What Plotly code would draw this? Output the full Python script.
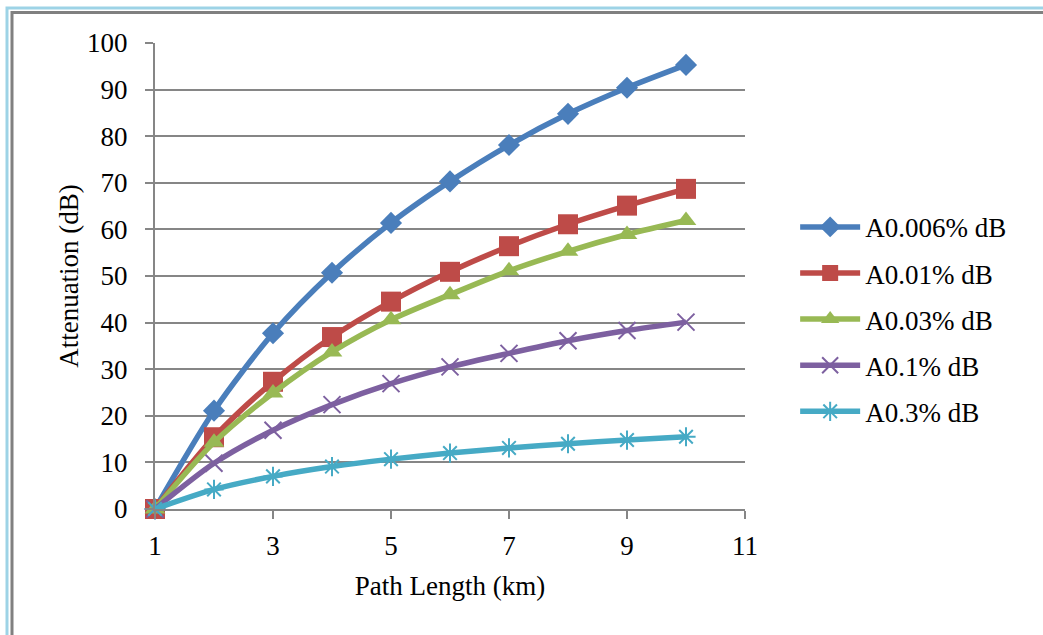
import plotly.graph_objects as go

path_km = [1, 2, 3, 4, 5, 6, 7, 8, 9, 10]
a_0006 = [0, 21.1, 37.7, 50.7, 61.4, 70.3, 78.1, 84.8, 90.4, 95.3]
a_001 = [0, 15.4, 27.3, 36.9, 44.5, 50.9, 56.4, 61.1, 65.1, 68.7]
a_003 = [0, 14.3, 24.9, 33.7, 40.6, 46.0, 51.1, 55.3, 58.9, 61.9]
a_01 = [0, 9.8, 16.9, 22.4, 26.9, 30.5, 33.4, 36.1, 38.3, 40.1]
a_03 = [0, 4.2, 7.0, 9.1, 10.7, 12.0, 13.1, 14.0, 14.8, 15.5]

series = [
    ("A0.006% dB", a_0006, "#4A7EBB", "diamond", 17),
    ("A0.01% dB", a_001, "#BE4B48", "square", 20),
    ("A0.03% dB", a_003, "#98B954", "triangle-up", 18),
    ("A0.1% dB", a_01, "#7D60A0", "x-thin-open", 17),
    ("A0.3% dB", a_03, "#46AAC5", "asterisk-open", 16),
]

FONT = "Liberation Serif, Times New Roman, serif"
FS = 27

fig = go.Figure()
for i, (name, vals, color, sym, size) in enumerate(series):
    open_sym = sym.endswith("open")
    fig.add_trace(go.Scatter(
        x=path_km, y=vals, name=name, mode="lines+markers",
        legendgroup=f"g{i}", cliponaxis=False,
        line=dict(color=color, width=5.5, shape="spline", smoothing=0.8),
        marker=dict(symbol=sym, size=size, color=color,
                    line=dict(color=color, width=2 if open_sym else 0)),
    ))

fig.update_layout(
    width=1043, height=635,
    margin=dict(l=155, r=298, t=43, b=126),
    paper_bgcolor="white", plot_bgcolor="white",
    font=dict(family=FONT, size=FS, color="black"),
    showlegend=True,
    legend=dict(x=1.085, y=0.657, xanchor="left", yanchor="top",
                font=dict(family=FONT, size=FS, color="black"),
                tracegroupgap=8, itemwidth=60, bgcolor="rgba(0,0,0,0)"),
    xaxis=dict(range=[1, 11], tickmode="linear", tick0=1, dtick=2,
               showgrid=False, zeroline=False, showline=True,
               linecolor="#868686", linewidth=2, ticks="outside",
               ticklen=8, tickcolor="#868686", tickwidth=2,
               ticklabelstandoff=4,
               tickfont=dict(family=FONT, size=FS),
               title=dict(text="Path Length (km)", standoff=16,
                          font=dict(family=FONT, size=FS))),
    yaxis=dict(range=[0, 100], tickmode="linear", tick0=0, dtick=10,
               showgrid=True, gridcolor="#868686", gridwidth=2,
               zeroline=False, showline=True,
               linecolor="#868686", linewidth=2, ticks="outside",
               ticklen=8, tickcolor="#868686", tickwidth=2,
               ticklabelstandoff=12,
               tickfont=dict(family=FONT, size=FS),
               title=dict(text="Attenuation (dB)", standoff=1,
                          font=dict(family=FONT, size=FS))),
    shapes=[
        dict(type="rect", xref="paper", yref="paper",
             x0=(7 - 155) / 590, x1=(1100 - 155) / 590,
             y0=(509 - 700) / 466, y1=(509 - 8) / 466,
             line=dict(color="#9DD3E6", width=3), layer="below"),
        dict(type="rect", xref="paper", yref="paper",
             x0=(12 - 155) / 590, x1=(1100 - 155) / 590,
             y0=(509 - 700) / 466, y1=(509 - 12.5) / 466,
             line=dict(color="#808080", width=3), layer="below"),
    ],
)

fig.write_html("out.html")
